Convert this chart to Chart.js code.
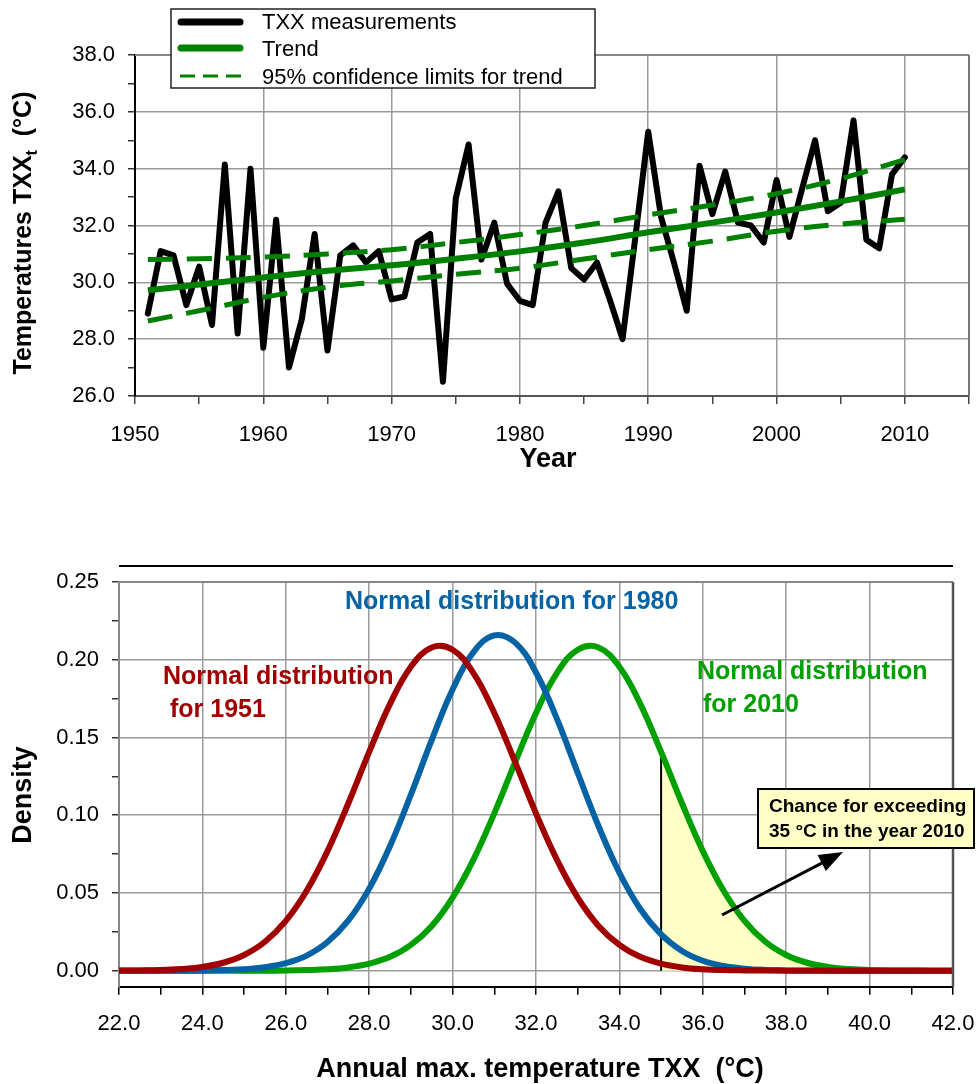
<!DOCTYPE html>
<html lang="en">
<head>
<meta charset="UTF-8">
<title>TXX trend and normal distributions</title>
<script src="https://cdn.jsdelivr.net/npm/chart.js"></script>
<style>
  body { margin: 0; background: #fff; }
  #wrap { position: relative; width: 976px; height: 1084px; }
  canvas { position: absolute; left: 0; }
  #topChart { top: 0; }
  #bottomChart { top: 500px; }
</style>
</head>
<body>
<div id="wrap">
  <canvas id="topChart" width="976" height="500"></canvas>
  <canvas id="bottomChart" width="976" height="584"></canvas>
</div>
<script>
const FONT = "'Liberation Sans', Arial, sans-serif";

// ---- top chart: annual maxima with trend ----
const years = [1951, 1952, 1953, 1954, 1955, 1956, 1957, 1958, 1959, 1960,
  1961, 1962, 1963, 1964, 1965, 1966, 1967, 1968, 1969, 1970,
  1971, 1972, 1973, 1974, 1975, 1976, 1977, 1978, 1979, 1980,
  1981, 1982, 1983, 1984, 1985, 1986, 1987, 1988, 1989, 1990,
  1991, 1992, 1993, 1994, 1995, 1996, 1997, 1998, 1999, 2000,
  2001, 2002, 2003, 2004, 2005, 2006, 2007, 2008, 2009, 2010];
const txx = [28.9, 31.1, 30.95, 29.2, 30.55, 28.5, 34.15, 28.2, 34.0, 27.7,
  32.2, 27.0, 28.7, 31.7, 27.6, 30.95, 31.3, 30.7, 31.1, 29.4,
  29.5, 31.4, 31.7, 26.5, 32.95, 34.85, 30.8, 32.1, 29.95, 29.35,
  29.2, 32.1, 33.2, 30.5, 30.1, 30.7, 29.4, 28.0, 31.6, 35.3,
  32.3, 30.7, 29.0, 34.1, 32.4, 33.9, 32.1, 32.0, 31.4, 33.6,
  31.6, 33.3, 35.0, 32.5, 32.8, 35.7, 31.5, 31.2, 33.8, 34.4];

const trendYears = [1951, 1955, 1960, 1965, 1970, 1975, 1980, 1985, 1990, 1995, 2000, 2005, 2010];
const trend = [29.72, 29.92, 30.17, 30.41, 30.6, 30.83, 31.09, 31.4, 31.76, 32.1, 32.46, 32.85, 33.27];
const upperCI = [30.8, 30.83, 30.89, 31.0, 31.15, 31.4, 31.68, 32.0, 32.37, 32.72, 33.12, 33.65, 34.32];
const lowerCI = [28.64, 29.0, 29.47, 29.83, 30.05, 30.28, 30.5, 30.82, 31.15, 31.45, 31.8, 32.05, 32.22];

const topXTicks = [1950, 1955, 1960, 1965, 1970, 1975, 1980, 1985, 1990, 1995, 2000, 2005, 2010, 2015];
const topYTicks = [26, 27, 28, 29, 30, 31, 32, 33, 34, 35, 36, 37, 38];

// ---- bottom chart: normal densities ----
const tempGrid = [22, 22.5, 23, 23.5, 24, 24.5, 25, 25.5, 26, 26.5, 27, 27.5, 28, 28.5,
  29, 29.5, 30, 30.5, 31, 31.5, 32, 32.5, 33, 33.5, 34, 34.5, 35, 35.5,
  36, 36.5, 37, 37.5, 38, 38.5, 39, 39.5, 40, 40.5, 41, 41.5, 42];
const dens1951 = [0.0001, 0.0002, 0.0004, 0.0011, 0.0024, 0.0051, 0.0101, 0.0186, 0.032, 0.0514,
  0.0769, 0.1077, 0.1407, 0.1716, 0.1955, 0.2079, 0.2064, 0.1914, 0.1658, 0.1341,
  0.1012, 0.0714, 0.047, 0.0288, 0.0166, 0.0089, 0.0045, 0.0021, 0.0009, 0.0004,
  0.0002, 0.0001, 0, 0, 0, 0, 0, 0, 0, 0, 0];
const dens1980 = [0, 0, 0, 0, 0.0001, 0.0004, 0.0009, 0.0022, 0.0048, 0.0097,
  0.0184, 0.0323, 0.0528, 0.0802, 0.1132, 0.1485, 0.1809, 0.2049, 0.2157, 0.211,
  0.1918, 0.1621, 0.1273, 0.0929, 0.063, 0.0397, 0.0233, 0.0127, 0.0064, 0.003,
  0.0013, 0.0005, 0.0002, 0.0001, 0, 0, 0, 0, 0, 0, 0];
const dens2010 = [0, 0, 0, 0, 0, 0, 0, 0, 0.0001, 0.0004,
  0.0009, 0.0021, 0.0045, 0.0089, 0.0166, 0.0288, 0.047, 0.0714, 0.1012, 0.1341,
  0.1658, 0.1914, 0.2064, 0.2079, 0.1955, 0.1716, 0.1407, 0.1077, 0.0769, 0.0514,
  0.032, 0.0186, 0.0101, 0.0051, 0.0024, 0.0011, 0.0004, 0.0002, 0.0001, 0, 0];
const threshold = 35;

const botXTicks = [22, 23, 24, 25, 26, 27, 28, 29, 30, 31, 32, 33, 34, 35, 36, 37, 38, 39, 40, 41, 42];
const botYTicks = [0, 0.025, 0.05, 0.075, 0.1, 0.125, 0.15, 0.175, 0.2, 0.225, 0.25];

const RED = '#A00000', BLUE = '#0563A5', GREEN = '#00A000', DKGREEN = '#008000';

function pts(xs, ys) {
  return xs.map((x, i) => ({ x: x, y: ys[i] }));
}

function text(ctx, s, x, y, font, color, align) {
  ctx.save();
  ctx.font = font;
  ctx.fillStyle = color;
  ctx.textAlign = align || 'left';
  ctx.textBaseline = 'alphabetic';
  ctx.fillText(s, x, y);
  ctx.restore();
}

function line(ctx, x1, y1, x2, y2, color, width, dash) {
  ctx.save();
  ctx.strokeStyle = color;
  ctx.lineWidth = width;
  ctx.setLineDash(dash || []);
  ctx.beginPath();
  ctx.moveTo(x1, y1);
  ctx.lineTo(x2, y2);
  ctx.stroke();
  ctx.restore();
}

// keep the plot area where the picture has it, whatever the labels overhang
function noPad(s) {
  s.paddingLeft = 0;
  s.paddingRight = 0;
  s.paddingTop = 0;
  s.paddingBottom = 0;
}

Chart.defaults.font.family = FONT;
Chart.defaults.color = '#000';

const tickFont = { family: FONT, size: 22 };

// borders, legend and titles of the top chart
const topDecor = {
  id: 'topDecor',
  beforeDatasetsDraw(chart) {
    const { ctx, chartArea: a } = chart;
    line(ctx, a.left, a.top, a.right, a.top, '#888', 2);
    line(ctx, a.right, a.top, a.right, a.bottom, '#777', 2);
  },
  afterDraw(chart) {
    const ctx = chart.ctx;
    // legend box
    ctx.save();
    ctx.fillStyle = '#fff';
    ctx.fillRect(171, 9, 424, 79);
    ctx.strokeStyle = '#222';
    ctx.lineWidth = 1.5;
    ctx.strokeRect(171, 9, 424, 79);
    ctx.restore();
    ctx.save();
    ctx.lineCap = 'round';
    line(ctx, 181, 22, 240, 22, '#000', 7);
    line(ctx, 181, 48, 240, 48, DKGREEN, 7);
    ctx.restore();
    line(ctx, 180, 76, 242, 76, DKGREEN, 3, [15, 8]);
    const lf = `22px ${FONT}`;
    text(ctx, 'TXX measurements', 262, 29, lf, '#000');
    text(ctx, 'Trend', 262, 56, lf, '#000');
    text(ctx, '95% confidence limits for trend', 262, 84, lf, '#000');

    // x title
    text(ctx, 'Year', 548, 467, `bold 27px ${FONT}`, '#000', 'center');

    // y title with subscript
    ctx.save();
    ctx.translate(22, 233);
    ctx.rotate(-Math.PI / 2);
    const big = `bold 25px ${FONT}`, small = `bold 16px ${FONT}`;
    ctx.font = big;
    const w1 = ctx.measureText('Temperatures TXX').width;
    const w3 = ctx.measureText('  (°C)').width;
    ctx.font = small;
    const w2 = ctx.measureText('t').width;
    let x = -(w1 + w2 + w3) / 2;
    const base = 9;
    ctx.fillStyle = '#000';
    ctx.textBaseline = 'alphabetic';
    ctx.font = big;
    ctx.fillText('Temperatures TXX', x, base);
    x += w1;
    ctx.font = small;
    ctx.fillText('t', x, base + 6);
    x += w2;
    ctx.font = big;
    ctx.fillText('  (°C)', x, base);
    ctx.restore();
  }
};

new Chart(document.getElementById('topChart'), {
  type: 'line',
  data: {
    datasets: [
      { label: 'upper limit', data: pts(trendYears, upperCI), borderColor: DKGREEN, borderWidth: 5,
        borderDash: [25, 14], pointRadius: 0, tension: 0.4, fill: false },
      { label: 'lower limit', data: pts(trendYears, lowerCI), borderColor: DKGREEN, borderWidth: 5,
        borderDash: [25, 14], pointRadius: 0, tension: 0.4, fill: false },
      { label: 'Trend', data: pts(trendYears, trend), borderColor: DKGREEN, borderWidth: 6,
        pointRadius: 0, tension: 0.4, fill: false },
      { label: 'TXX measurements', data: pts(years, txx), borderColor: '#000', borderWidth: 6,
        borderJoinStyle: 'round', borderCapStyle: 'round', pointRadius: 0, tension: 0, fill: false }
    ]
  },
  options: {
    responsive: false,
    animation: false,
    events: [],
    layout: { padding: { top: 55, right: 7, left: 0, bottom: 0 } },
    plugins: { legend: { display: false }, tooltip: { enabled: false } },
    scales: {
      x: {
        type: 'linear', min: 1950, max: 2015,
        afterFit: s => { s.height = 104; noPad(s); },
        afterBuildTicks: s => { s.ticks = topXTicks.map(v => ({ value: v })); },
        ticks: {
          autoSkip: false, maxRotation: 0, padding: 18, font: tickFont, color: '#000',
          callback: v => (v % 10 === 0 && v < 2015) ? String(v) : ''
        },
        grid: {
          color: c => (c.tick && c.tick.value % 10 === 0 && c.tick.value > 1950 && c.tick.value < 2015) ? '#9a9a9a' : 'rgba(0,0,0,0)',
          lineWidth: 1.5, tickLength: 8, tickColor: '#444', tickWidth: 1.5
        },
        border: { color: '#555', width: 2 }
      },
      y: {
        min: 26, max: 38,
        afterFit: s => { s.width = 135; noPad(s); },
        afterBuildTicks: s => { s.ticks = topYTicks.map(v => ({ value: v })); },
        ticks: {
          autoSkip: false, padding: 13, font: tickFont, color: '#000',
          callback: v => (v % 2 === 0) ? v.toFixed(1) : ''
        },
        grid: {
          color: c => (c.tick && c.tick.value % 2 === 0 && c.tick.value > 26) ? '#9a9a9a' : 'rgba(0,0,0,0)',
          lineWidth: 1.5, tickLength: 7, tickColor: '#333', tickWidth: 1.5
        },
        border: { color: '#000', width: 2 }
      }
    }
  },
  plugins: [topDecor]
});

// ---- bottom chart decorations ----
const i35 = tempGrid.indexOf(threshold);

const botDecor = {
  id: 'botDecor',
  beforeDatasetsDraw(chart) {
    const { ctx, chartArea: a } = chart;
    line(ctx, a.left, a.top, a.right, a.top, '#888', 2);
  },
  afterDatasetDraw(chart, args) {
    if (args.index !== 3) return;
    const ctx = chart.ctx;
    const xs = chart.scales.x, ys = chart.scales.y;
    const px = xs.getPixelForValue(threshold);
    line(ctx, px, ys.getPixelForValue(0), px, ys.getPixelForValue(dens2010[i35]), '#000', 2);
  },
  afterDatasetsDraw(chart) {
    const { ctx, chartArea: a } = chart;
    line(ctx, a.right, a.top, a.right, a.bottom, '#555', 2.5);
    line(ctx, a.left, 66, a.right, 66, '#000', 2);

    const af = `bold 25px ${FONT}`;
    text(ctx, 'Normal distribution for 1980', 345, 109, af, BLUE);
    text(ctx, 'Normal distribution', 163, 184, af, RED);
    text(ctx, 'for 1951', 170, 217, af, RED);
    text(ctx, 'Normal distribution', 697, 179, af, GREEN);
    text(ctx, 'for 2010', 703, 212, af, GREEN);

    // callout box
    ctx.save();
    ctx.fillStyle = '#FFFFC6';
    ctx.fillRect(758, 289, 216, 59);
    ctx.strokeStyle = '#000';
    ctx.lineWidth = 2;
    ctx.strokeRect(758, 289, 216, 59);
    ctx.restore();
    const cf = `bold 19px ${FONT}`;
    text(ctx, 'Chance for exceeding', 769, 312, cf, '#000');
    text(ctx, '35 °C in the year 2010', 769, 337, cf, '#000');

    // arrow
    const x1 = 722, y1 = 415, x2 = 843, y2 = 352;
    const ang = Math.atan2(y2 - y1, x2 - x1);
    line(ctx, x1, y1, x2 - 18 * Math.cos(ang), y2 - 18 * Math.sin(ang), '#000', 3);
    ctx.save();
    ctx.fillStyle = '#000';
    ctx.translate(x2, y2);
    ctx.rotate(ang);
    ctx.beginPath();
    ctx.moveTo(0, 0);
    ctx.lineTo(-24, -9);
    ctx.lineTo(-24, 9);
    ctx.closePath();
    ctx.fill();
    ctx.restore();

    // axis titles
    text(ctx, 'Annual max. temperature TXX  (°C)', 540, 577, `bold 27px ${FONT}`, '#000', 'center');
    ctx.save();
    ctx.translate(21, 295);
    ctx.rotate(-Math.PI / 2);
    text(ctx, 'Density', 0, 10, `bold 27px ${FONT}`, '#000', 'center');
    ctx.restore();
  }
};

const isMajor = v => Math.round(v * 1000) % 50 === 0;

new Chart(document.getElementById('bottomChart'), {
  type: 'line',
  data: {
    datasets: [
      { label: '1951', data: pts(tempGrid, dens1951), borderColor: RED, borderWidth: 6,
        borderCapStyle: 'round', pointRadius: 0, tension: 0.4, fill: false },
      { label: '1980', data: pts(tempGrid, dens1980), borderColor: BLUE, borderWidth: 6,
        borderCapStyle: 'round', pointRadius: 0, tension: 0.4, fill: false },
      { label: '2010', data: pts(tempGrid, dens2010), borderColor: GREEN, borderWidth: 6,
        borderCapStyle: 'round', pointRadius: 0, tension: 0.4, fill: false },
      { label: 'exceedance', data: pts(tempGrid.slice(i35), dens2010.slice(i35)),
        borderColor: 'rgba(0,0,0,0)', borderWidth: 0, backgroundColor: '#FFFFC6',
        pointRadius: 0, tension: 0.4, fill: 'origin' }
    ]
  },
  options: {
    responsive: false,
    animation: false,
    events: [],
    layout: { padding: { top: 82, right: 23, left: 0, bottom: 0 } },
    plugins: { legend: { display: false }, tooltip: { enabled: false } },
    scales: {
      x: {
        type: 'linear', min: 22, max: 42,
        afterFit: s => { s.height = 97.3; noPad(s); },
        afterBuildTicks: s => { s.ticks = botXTicks.map(v => ({ value: v })); },
        ticks: {
          autoSkip: false, maxRotation: 0, padding: 16, font: tickFont, color: '#000',
          callback: v => (v % 2 === 0) ? v.toFixed(1) : ''
        },
        grid: {
          color: c => (c.tick && c.tick.value % 2 === 0 && c.tick.value > 22 && c.tick.value < 42) ? '#9a9a9a' : 'rgba(0,0,0,0)',
          lineWidth: 1.5, tickLength: 8, tickColor: '#000', tickWidth: 1.5
        },
        border: { color: '#000', width: 2 }
      },
      y: {
        min: -0.0103, max: 0.25,
        afterFit: s => { s.width = 119; noPad(s); },
        afterBuildTicks: s => { s.ticks = botYTicks.map(v => ({ value: v })); },
        ticks: {
          autoSkip: false, padding: 13, font: tickFont, color: '#000',
          callback: v => isMajor(v) ? v.toFixed(2) : ''
        },
        grid: {
          color: c => (c.tick && isMajor(c.tick.value)) ? '#9a9a9a' : 'rgba(0,0,0,0)',
          lineWidth: 1.5, tickLength: 7, tickColor: '#333', tickWidth: 1.5
        },
        border: { color: '#888', width: 2 }
      }
    }
  },
  plugins: [botDecor]
});
</script>
</body>
</html>
